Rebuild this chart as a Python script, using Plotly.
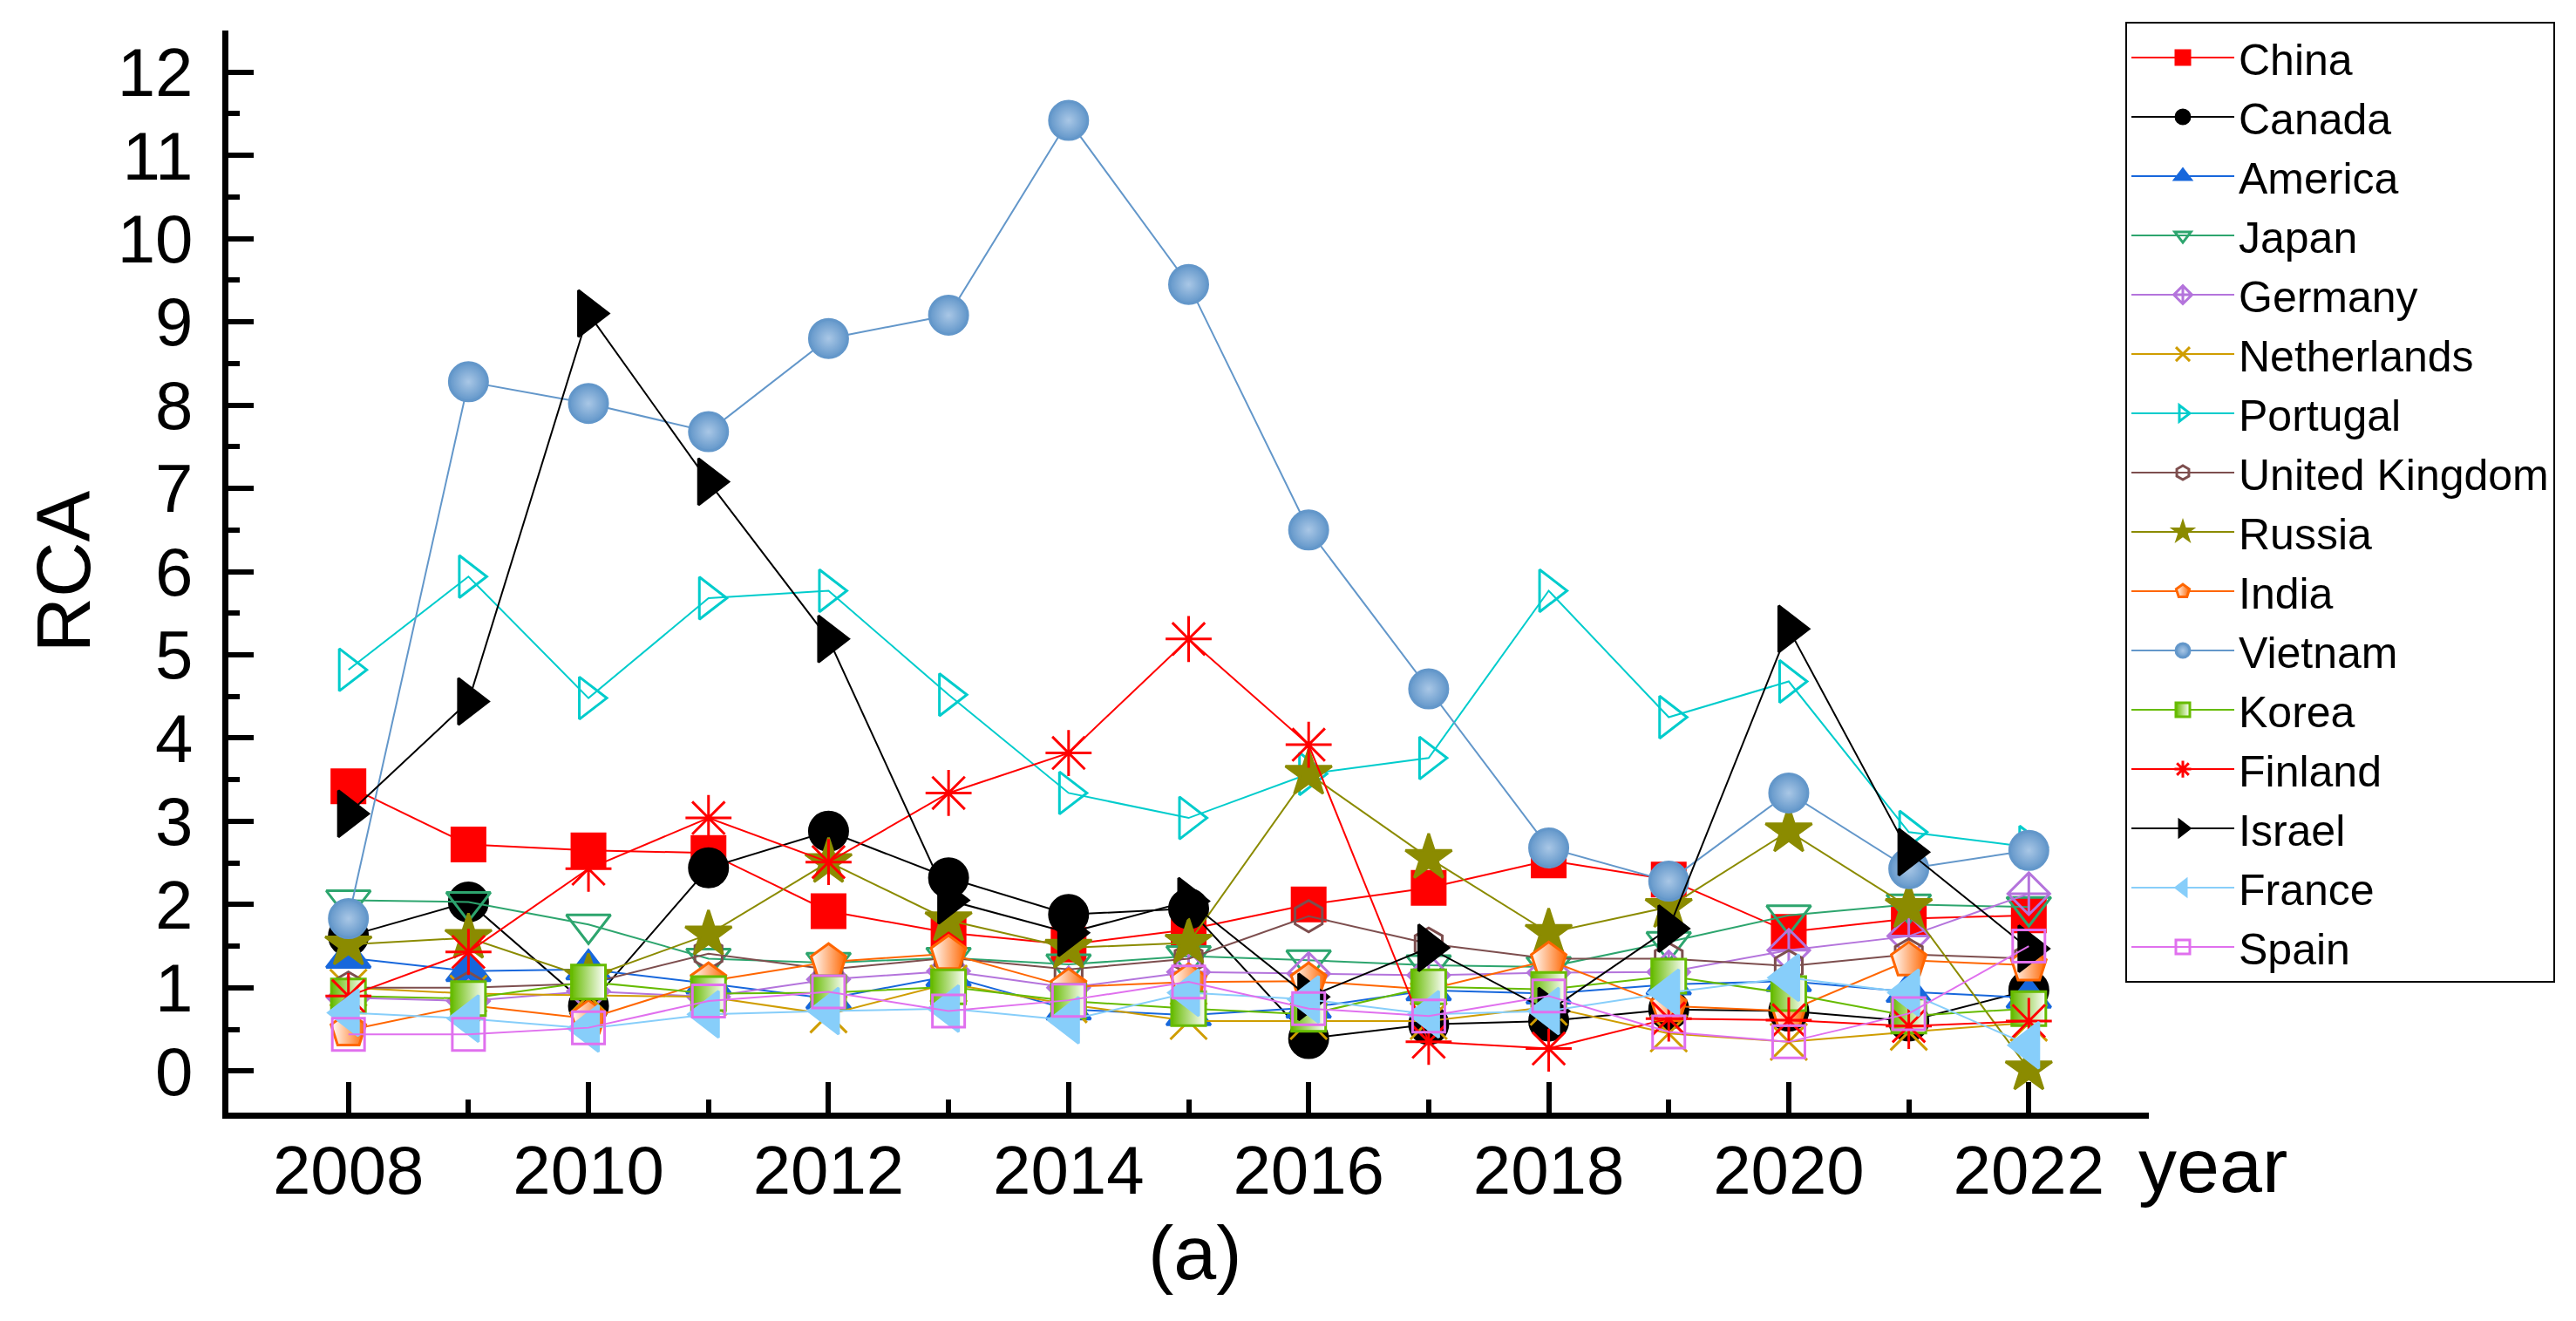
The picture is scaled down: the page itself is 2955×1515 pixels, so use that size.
import plotly.graph_objects as go

years = list(range(2008, 2023))

china = [3.42, 2.72, 2.65, 2.62, 1.92, 1.66, 1.52, 1.70, 2.00, 2.20, 2.53, 2.30, 1.67, 1.83, 1.87]
canada = [1.62, 2.03, 0.78, 2.44, 2.88, 2.32, 1.88, 1.95, 0.39, 0.56, 0.60, 0.74, 0.72, 0.60, 0.97]
america = [1.36, 1.20, 1.22, 1.05, 0.87, 1.14, 0.74, 0.67, 0.76, 0.97, 0.93, 1.04, 1.08, 0.95, 0.88]
japan = [2.05, 2.03, 1.76, 1.35, 1.30, 1.36, 1.28, 1.38, 1.33, 1.27, 1.25, 1.55, 1.87, 2.00, 1.97]
germany = [0.88, 0.84, 0.96, 0.89, 1.10, 1.20, 1.00, 1.19, 1.17, 1.15, 1.18, 1.19, 1.45, 1.62, 2.13]
netherlands = [1.00, 0.93, 0.91, 0.89, 0.68, 1.05, 0.80, 0.60, 0.60, 0.60, 0.77, 0.45, 0.35, 0.47, 0.58]
portugal = [4.82, 5.94, 4.48, 5.68, 5.77, 4.52, 3.34, 3.04, 3.57, 3.76, 5.77, 4.25, 4.68, 2.87, 2.69]
uk = [1.00, 1.00, 1.05, 1.41, 1.22, 1.36, 1.22, 1.35, 1.86, 1.53, 1.35, 1.35, 1.26, 1.40, 1.35]
russia = [1.52, 1.60, 1.12, 1.64, 2.51, 1.81, 1.48, 1.54, 3.57, 2.56, 1.66, 1.97, 2.88, 1.97, 0.02]
india = [0.49, 0.79, 0.63, 1.08, 1.31, 1.41, 1.01, 1.07, 1.08, 0.98, 1.33, 0.78, 0.72, 1.33, 1.27]
vietnam = [1.83, 8.28, 8.02, 7.68, 8.80, 9.08, 11.42, 9.45, 6.50, 4.59, 2.68, 2.28, 3.34, 2.43, 2.65]
korea = [0.90, 0.87, 1.07, 0.93, 0.94, 1.01, 0.84, 0.75, 0.68, 1.01, 0.98, 1.14, 0.93, 0.66, 0.75]
finland = [0.90, 1.43, 2.43, 3.04, 2.51, 3.34, 3.82, 5.19, 3.92, 0.35, 0.27, 0.63, 0.61, 0.54, 0.60]
israel = [3.09, 4.44, 9.10, 7.08, 5.19, 2.05, 1.66, 2.04, 0.89, 1.48, 0.72, 1.71, 5.31, 2.63, 1.47]
france = [0.70, 0.63, 0.51, 0.68, 0.72, 0.75, 0.61, 0.94, 0.86, 0.68, 0.72, 0.94, 1.12, 0.94, 0.31]
spain = [0.44, 0.44, 0.52, 0.84, 0.95, 0.72, 0.85, 1.07, 0.75, 0.66, 0.90, 0.47, 0.35, 0.69, 1.50]

FONT = "Liberation Sans, Arial, sans-serif"

# name, values, color, symbol, size, fill, gradient
series = [
    ("China", china, "#FF0000", "square", 38, "#FF0000", None),
    ("Canada", canada, "#000000", "circle", 44, "#000000", None),
    ("America", america, "#1767DC", "triangle-up", 44, "#1767DC", None),
    ("Japan", japan, "#2DA56E", "triangle-down-open", 44, None, None),
    ("Germany", germany, "#B474DC", "diamond-cross-open", 37, None, None),
    ("Netherlands", netherlands, "#CF9D00", "x-thin-open", 42, None, None),
    ("Portugal", portugal, "#00CCCC", "triangle-right-open", 42, None, None),
    ("United Kingdom", uk, "#7D4E4E", "hexagon-open", 36, None, None),
    ("Russia", russia, "#8B8B00", "star", 40, "#8B8B00", None),
    ("India", india, "#FF6600", "pentagon", 42, "#FFFFFF", ("horizontal", "#FF6600")),
    ("Vietnam", vietnam, "#6397CA", "circle", 44, "#6397CA", ("radial", "#A9C7E6")),
    ("Korea", korea, "#66BB00", "square", 39, "#66BB00", ("horizontal", "#FFFFFF")),
    ("Finland", finland, "#FF0000", "asterisk-open", 44, None, None),
    ("Israel", israel, "#000000", "triangle-right", 46, "#000000", None),
    ("France", france, "#87CEFA", "triangle-left", 46, "#87CEFA", None),
    ("Spain", spain, "#E070EE", "square-open", 37, None, None),
]

fig = go.Figure()
for name, vals, color, symbol, size, fill, grad in series:
    marker = dict(symbol=symbol, size=size,
                  color=fill if fill is not None else color,
                  line=dict(color=color, width=3))
    if grad is not None:
        marker["gradient"] = dict(type=grad[0], color=grad[1])
    fig.add_trace(go.Scatter(
        x=years, y=vals, name=name, mode="lines+markers",
        line=dict(color=color, width=2),
        marker=marker,
    ))

W, H = 2955, 1515
L, R, T, B = 254, 498, 27, 247
pw = W - L - R
ph = H - T - B

fig.update_layout(
    width=W, height=H,
    margin=dict(l=L, r=R, t=T, b=B, pad=0),
    paper_bgcolor="white", plot_bgcolor="white",
    font=dict(family=FONT, color="black"),
    showlegend=True,
    legend=dict(
        x=(2430 - L) / pw, y=1.008, xanchor="left", yanchor="top",
        bgcolor="white", bordercolor="black", borderwidth=2,
        font=dict(size=50, family=FONT, color="black"),
        itemwidth=118, tracegroupgap=0, itemsizing="trace",
        maxheight=1200,
    ),
    xaxis=dict(
        range=[2007, 2023], tickmode="linear", tick0=2008, dtick=2,
        showgrid=False, zeroline=False,
        showline=True, linecolor="black", linewidth=7,
        ticks="inside", ticklen=35, tickwidth=6, tickcolor="black",
        minor=dict(dtick=1, tick0=2007, ticks="inside", ticklen=15, tickwidth=6,
                   tickcolor="black", showgrid=False),
        tickfont=dict(size=78, family=FONT, color="black"),
        ticklabelstandoff=-8,
    ),
    yaxis=dict(
        range=[-0.5, 12.5], tickmode="linear", tick0=0, dtick=1,
        showgrid=False, zeroline=False,
        showline=True, linecolor="black", linewidth=7,
        ticks="inside", ticklen=29, tickwidth=6, tickcolor="black",
        minor=dict(dtick=0.5, tick0=0, ticks="inside", ticklen=13, tickwidth=6,
                   tickcolor="black", showgrid=False),
        tickfont=dict(size=78, family=FONT, color="black"),
        ticklabelstandoff=18,
    ),
    annotations=[
        dict(text="RCA", xref="paper", yref="paper", x=(64 - L) / pw, y=0.5,
             xanchor="center", yanchor="middle", textangle=-90, showarrow=False,
             font=dict(size=88, family=FONT, color="black")),
        dict(text="year", xref="paper", yref="paper", x=(2530 - L) / pw,
             y=-(1328 - (H - B)) / ph,
             xanchor="center", yanchor="middle", showarrow=False,
             font=dict(size=88, family=FONT, color="black")),
        dict(text="(a)", xref="paper", yref="paper", x=(1363 - L) / pw,
             y=-(1428 - (H - B)) / ph,
             xanchor="center", yanchor="middle", showarrow=False,
             font=dict(size=88, family=FONT, color="black")),
    ],
)

fig.write_html("out.html")
